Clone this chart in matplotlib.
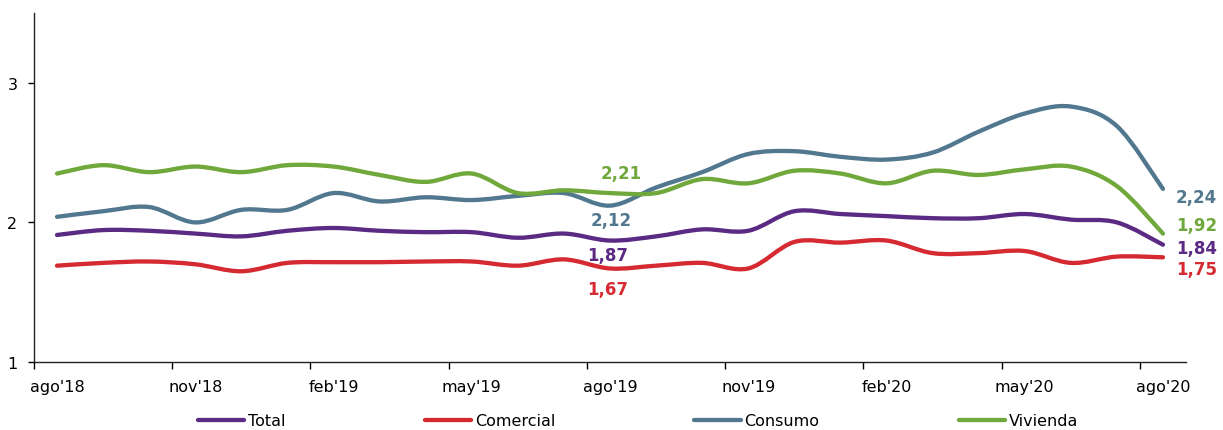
import numpy as np
import matplotlib
matplotlib.use("Agg")
import matplotlib.pyplot as plt
from matplotlib.path import Path
from matplotlib.patches import PathPatch
from matplotlib.lines import Line2D

months = ["ago'18", "sep'18", "oct'18", "nov'18", "dic'18", "ene'19", "feb'19", "mar'19",
          "abr'19", "may'19", "jun'19", "jul'19", "ago'19", "sep'19", "oct'19", "nov'19",
          "dic'19", "ene'20", "feb'20", "mar'20", "abr'20", "may'20", "jun'20", "jul'20", "ago'20"]

total = [1.91, 1.945, 1.94, 1.92, 1.90, 1.94, 1.96, 1.94, 1.93, 1.93, 1.89, 1.92, 1.87,
         1.90, 1.95, 1.94, 2.08, 2.06, 2.045, 2.03, 2.03, 2.06, 2.02, 2.00, 1.84]
comercial = [1.69, 1.71, 1.72, 1.70, 1.65, 1.71, 1.715, 1.715, 1.72, 1.72, 1.69, 1.735, 1.67,
             1.69, 1.71, 1.67, 1.86, 1.855, 1.87, 1.78, 1.78, 1.795, 1.71, 1.755, 1.75]
consumo = [2.04, 2.08, 2.11, 2.00, 2.09, 2.09, 2.21, 2.15, 2.18, 2.16, 2.19, 2.21, 2.12,
           2.25, 2.36, 2.49, 2.51, 2.47, 2.45, 2.50, 2.65, 2.78, 2.83, 2.69, 2.24]
vivienda = [2.35, 2.41, 2.36, 2.40, 2.36, 2.41, 2.40, 2.34, 2.29, 2.35, 2.21, 2.23, 2.21,
            2.21, 2.31, 2.28, 2.37, 2.35, 2.28, 2.37, 2.34, 2.38, 2.40, 2.26, 1.92]

series = [
    ("Total", total, "#5b2a84"),
    ("Comercial", comercial, "#d62a33"),
    ("Consumo", consumo, "#52788f"),
    ("Vivienda", vivienda, "#70a83b"),
]

# label offsets in pixels (dx, dy) for point index 12 and last point
labels_mid = {"Total": (-2, -14), "Comercial": (-2, -21), "Consumo": (1, -14), "Vivienda": (11, 20)}
labels_end = {"Total": (13, -3), "Comercial": (13, -12), "Consumo": (13, -8), "Vivienda": (13, 9)}


def smooth_path(x, y):
    pts = np.column_stack([x, y])
    verts = [pts[0]]
    codes = [Path.MOVETO]
    n = len(pts)
    for i in range(n - 1):
        p0 = pts[i - 1] if i > 0 else pts[i]
        p1 = pts[i]
        p2 = pts[i + 1]
        p3 = pts[i + 2] if i + 2 < n else pts[i + 1]
        c1 = p1 + (p2 - p0) / 6.0
        c2 = p2 - (p3 - p1) / 6.0
        verts += [c1, c2, p2]
        codes += [Path.CURVE4] * 3
    return Path(verts, codes)


fig = plt.figure(figsize=(12.23, 4.31), dpi=100)
ax = fig.add_axes([34 / 1223, 68 / 431, (1186 - 34) / 1223, (363 - 14) / 431])

x = np.arange(len(months))
handles = []
for name, vals, col in series:
    patch = PathPatch(smooth_path(x, np.array(vals)), facecolor="none", edgecolor=col,
                      lw=3.1, capstyle="round", joinstyle="round")
    ax.add_patch(patch)
    handles.append(Line2D([], [], color=col, lw=3.1, solid_capstyle="round"))
    s12 = f"{vals[12]:.2f}".replace(".", ",")
    ax.annotate(s12, xy=(12, vals[12]), xytext=labels_mid[name], textcoords="offset pixels",
                ha="center", va="center", color=col, fontsize=12, fontweight="bold")
    se = f"{vals[-1]:.2f}".replace(".", ",")
    ax.annotate(se, xy=(24, vals[-1]), xytext=labels_end[name], textcoords="offset pixels",
                ha="left", va="center", color=col, fontsize=12, fontweight="bold")

ax.set_xlim(-0.5, 24.5)
ax.set_ylim(1, 3.5)
ax.set_yticks([1, 2, 3])
ax.set_yticklabels(["1", "2", "3"])
ax.set_xticks(np.arange(-0.5, 24.5, 3))
ax.set_xticklabels([])
ax.set_xticks(x[::3], minor=True)
ax.set_xticklabels([months[i] for i in x[::3]], minor=True)
ax.tick_params(axis="x", which="minor", length=0, pad=12, labelsize=11.5)
ax.tick_params(axis="x", which="major", length=5, width=1, direction="out")
ax.tick_params(axis="y", length=4, width=1, pad=8, labelsize=11.5)
for sp in ["top", "right"]:
    ax.spines[sp].set_visible(False)
for sp in ["left", "bottom"]:
    ax.spines[sp].set_linewidth(1.0)
    ax.spines[sp].set_color("#222222")

fig.legend(handles, [s[0] for s in series], loc="center", bbox_to_anchor=(638 / 1223, 9 / 431),
           ncol=4, frameon=False, fontsize=11.5, handlelength=2.9, handletextpad=0.25,
           columnspacing=8.7)

fig.savefig("out.png", dpi=100)
